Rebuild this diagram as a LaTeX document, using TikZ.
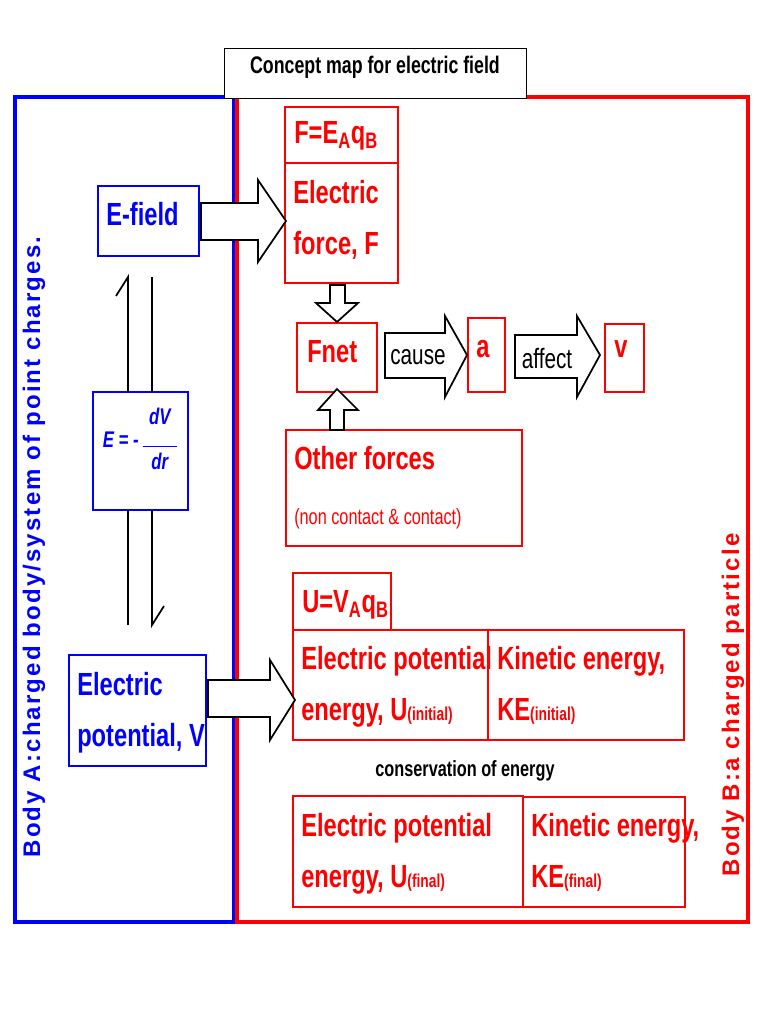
\documentclass[tikz,border=0pt]{standalone}
\usepackage{fontspec}
\setmainfont{Liberation Sans}[FakeStretch=0.74]
\newfontfamily\sidefont{Liberation Sans}[LetterSpace=9]
\newcommand\smp[1]{{\fontsize{14}{16}\selectfont #1}}
\begin{document}
\begin{tikzpicture}[x=0.75pt,y=-0.75pt,
  bx/.style={draw=#1,line width=2.2pt},
  big/.style={line width=3pt},
  rt/.style={text=red,font=\bfseries\fontsize{24}{28}\selectfont,anchor=north west,inner sep=0pt,align=left},
  bt/.style={text=blue,font=\bfseries\fontsize{24}{28}\selectfont,anchor=north west,inner sep=0pt,align=left},
  blk/.style={draw=black,line width=1.3pt,fill=white,line join=miter}]
\useasboundingbox (0,0) rectangle (768,1024);
% frames
\draw[big,blue] (15,97) rectangle (234,922);
\draw[big,red] (237,97) rectangle (748,922);
\node[draw=black,line width=0.6pt,minimum width=302*0.75pt,minimum height=50*0.75pt,fill=white,font=\bfseries\fontsize{18}{21}\selectfont] (title) at (375,73) {\raisebox{12pt}{Concept map for electric field}};
\node[rotate=90,text=blue,font=\sidefont\bfseries\fontsize{18}{20}\selectfont] (sideA) at (34,547) {Body A:charged body/system of point charges.};
\node[rotate=90,text=red,font=\sidefont\bfseries\fontsize{18}{20}\selectfont] (sideB) at (733,705) {Body B:a charged particle};
% blue boxes
\draw[bx=blue] (98,186) rectangle (199,256);
\node[bt] (ef) at (106,202) {E-field};
\draw[bx=blue] (93,392) rectangle (188,510);
\node[text=blue,inner sep=0pt,font=\bfseries\itshape\fontsize{17}{19}\selectfont] (form) at (140,442) {E = -\,$\vcenter{\hbox{\begin{tabular}{@{}c@{}}dV\\[-2pt]\rule{26pt}{1pt}\\[-2pt]dr\end{tabular}}}$};
\draw[bx=blue] (69,655) rectangle (206,766);
\node[bt] (pot) at (77,672) {Electric\\[10pt]potential, V};
% half arrows
\draw[line width=1.3pt] (128,392) -- (128,277) -- (116,296);
\draw[line width=1.3pt] (152,277) -- (152,392);
\draw[line width=1.3pt] (128,510) -- (128,625);
\draw[line width=1.3pt] (152,510) -- (152,625) -- (164,606);
% red boxes
\draw[bx=red] (285,107) rectangle (398,163);
\node[rt] (feq) at (294,121) {F=E\textsubscript{A}q\textsubscript{B}};
\draw[bx=red] (285,163) rectangle (398,283);
\node[rt] (force) at (293,180) {Electric\\[10pt]force, F};
\draw[bx=red] (297,323) rectangle (377,392);
\node[rt] (fnet) at (307,340) {Fnet};
\draw[bx=red] (468,318) rectangle (505,392);
\node[rt] (a) at (476,340) {a};
\draw[bx=red] (605,324) rectangle (644,392);
\node[rt] (v) at (614,340) {v};
\draw[bx=red] (286,430) rectangle (522,546);
\node[rt] (oth) at (294,446) {Other forces};
\node[rt,font=\fontsize{16.5}{19}\selectfont] (oth2) at (294,508) {(non contact \& contact)};
\draw[bx=red] (293,573) rectangle (391,630);
\node[rt] (ueq) at (302,590) {U=V\textsubscript{A}q\textsubscript{B}};
\draw[bx=red] (293,630) rectangle (488,740);
\node[rt] (epi) at (301,646) {Electric potential\\[10pt]energy, U\smp{(initial)}};
\draw[bx=red] (488,630) rectangle (684,740);
\node[rt] (kei) at (497,646) {Kinetic energy,\\[10pt]KE\smp{(initial)}};
\node[font=\bfseries\fontsize{16.5}{19}\selectfont] (cons) at (465,771) {conservation of energy};
\draw[bx=red] (293,796) rectangle (523,907);
\node[rt] (epf) at (301,813) {Electric potential\\[10pt]energy, U\smp{(final)}};
\draw[bx=red] (523,797) rectangle (685,907);
\node[rt] (kef) at (531,813) {Kinetic energy,\\[10pt]KE\smp{(final)}};
% block arrows
\draw[blk] (201,203) -- (258,203) -- (258,180) -- (286,221) -- (258,262) -- (258,240) -- (201,240) -- cycle;
\draw[blk] (208,680) -- (270,680) -- (270,660) -- (295,700) -- (270,740) -- (270,717) -- (208,717) -- cycle;
\draw[blk] (330,285) -- (345,285) -- (345,303) -- (358,303) -- (337,322) -- (316,303) -- (330,303) -- cycle;
\draw[blk] (330,430) -- (344,430) -- (344,410) -- (358,410) -- (337,389) -- (318,410) -- (330,410) -- cycle;
\draw[blk] (385,333) -- (445,333) -- (445,316) -- (467,355) -- (445,397) -- (445,378) -- (385,378) -- cycle;
\node[font=\fontsize{21}{24}\selectfont] (cause) at (418,357) {cause};
\draw[blk] (515,335) -- (577,335) -- (577,316) -- (600,355) -- (577,397) -- (577,378) -- (515,378) -- cycle;
\node[font=\fontsize{21}{24}\selectfont] (affect) at (547,359) {affect};
\end{tikzpicture}
\end{document}
